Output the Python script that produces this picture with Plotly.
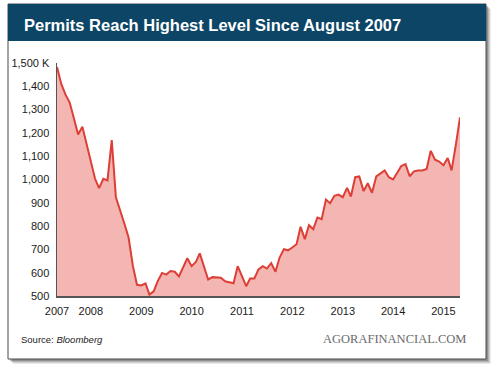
import plotly.graph_objects as go
import pandas as pd

# ---- data (monthly building permits, thousands, SAAR) ----
start_month = "2007-05-01"
permits = [
    1483, 1410, 1365, 1330, 1262, 1193, 1226, 1150, 1078, 1003,
    963, 1003, 996, 1169, 924, 870, 810, 751, 630, 548,
    545, 554, 506, 520, 565, 599, 592, 607, 604, 584,
    625, 662, 628, 646, 683, 625, 571, 581, 579, 578,
    563, 558, 555, 628, 585, 542, 575, 575, 614, 628,
    618, 641, 604, 665, 701, 696, 708, 722, 797, 744,
    804, 787, 837, 830, 914, 898, 930, 935, 924, 964,
    927, 1010, 1013, 950, 984, 943, 1013, 1025, 1039, 1010,
    1000, 1030, 1058, 1066, 1014, 1035, 1039, 1039, 1045, 1123,
    1085, 1077, 1061, 1092, 1039, 1150, 1267,
]
dates = pd.date_range(start_month, periods=len(permits), freq="MS")

x_tick_vals = ["2007-05-01", "2008-01-01", "2009-01-01", "2010-01-01", "2011-01-01",
               "2012-01-01", "2013-01-01", "2014-01-01", "2015-01-01"]
x_tick_text = ["2007", "2008", "2009", "2010", "2011", "2012", "2013", "2014", "2015"]
y_tick_vals = [500, 600, 700, 800, 900, 1000, 1100, 1200, 1300, 1400, 1500]
y_tick_text = ["500", "600", "700", "800", "900", "1,000", "1,100", "1,200", "1,300", "1,400", "1,500 K"]

title_text = "Permits Reach Highest Level Since August 2007"
source_text = "Source: <i>Bloomberg</i>"
brand_text = "AGORAFINANCIAL.COM"

# ---- layout geometry ----
W, H = 500, 371
L, R, T, B = 57, 460, 63, 296  # plot area in pixels


def px(xp):
    return (xp - L) / (R - L)


def py(yp):
    return (B - yp) / (B - T)


fig = go.Figure()
fig.add_trace(go.Scatter(
    x=dates, y=permits, mode="lines",
    line=dict(color="#dd3f37", width=2),
    fill="tozeroy", fillcolor="#f4b6b2",
    hoverinfo="skip", showlegend=False,
))

shapes = []
# drop shadow (layered)
for i, op in enumerate([0.10, 0.14, 0.20, 0.30]):
    off = 5 - i
    shapes.append(dict(type="rect", xref="paper", yref="paper",
                       x0=px(8 + off), x1=px(486 + off), y0=py(4 + off), y1=py(359 + off),
                       fillcolor=f"rgba(60,60,60,{op})", line=dict(width=0), layer="below"))
# card
shapes.append(dict(type="rect", xref="paper", yref="paper",
                   x0=px(8), x1=px(486), y0=py(4), y1=py(359),
                   fillcolor="white", line=dict(color="#4a4a4a", width=1), layer="below"))
# title bar
shapes.append(dict(type="rect", xref="paper", yref="paper",
                   x0=px(8), x1=px(486), y0=py(4), y1=py(41),
                   fillcolor="#0c4566", line=dict(width=0), layer="below"))

annotations = [
    dict(text=f"<b>{title_text}</b>", xref="paper", yref="paper",
         x=px(22), y=py(24.5), xanchor="left", yanchor="middle", showarrow=False,
         font=dict(family="Liberation Sans, Arial, sans-serif", size=16.5, color="white")),
    dict(text=source_text, xref="paper", yref="paper",
         x=px(18.5), y=py(339), xanchor="left", yanchor="middle", showarrow=False,
         font=dict(family="Liberation Sans, Arial, sans-serif", size=9.5, color="#222")),
    dict(text=brand_text, xref="paper", yref="paper",
         x=px(468), y=py(339), xanchor="right", yanchor="middle", showarrow=False,
         font=dict(family="Liberation Serif, Times New Roman, serif", size=12.5, color="#6a6a6a")),
]

fig.update_layout(
    width=W, height=H,
    margin=dict(l=L, r=W - R, t=T, b=H - B, pad=0),
    paper_bgcolor="white", plot_bgcolor="rgba(0,0,0,0)",
    shapes=shapes, annotations=annotations,
    font=dict(family="Liberation Sans, Arial, sans-serif", size=11, color="#1a1a1a"),
    showlegend=False,
)
fig.update_xaxes(
    type="date", range=["2007-05-01", "2015-05-01"],
    tickmode="array", tickvals=x_tick_vals, ticktext=x_tick_text,
    showgrid=False, zeroline=False, ticks="", showline=True,
    linecolor="#555", linewidth=1.5, ticklabelstandoff=4,
    tickfont=dict(size=11, color="#1a1a1a"),
)
fig.update_yaxes(
    range=[500, 1500], tickmode="array", tickvals=y_tick_vals, ticktext=y_tick_text,
    showgrid=False, zeroline=False, ticks="", showline=True,
    linecolor="#555", linewidth=1.5, ticklabelstandoff=4,
    tickfont=dict(size=11, color="#1a1a1a"),
)

fig.write_html("out.html", config={"displayModeBar": False, "staticPlot": True},
               post_script="document.body.style.margin='0';document.body.style.padding='0';")
